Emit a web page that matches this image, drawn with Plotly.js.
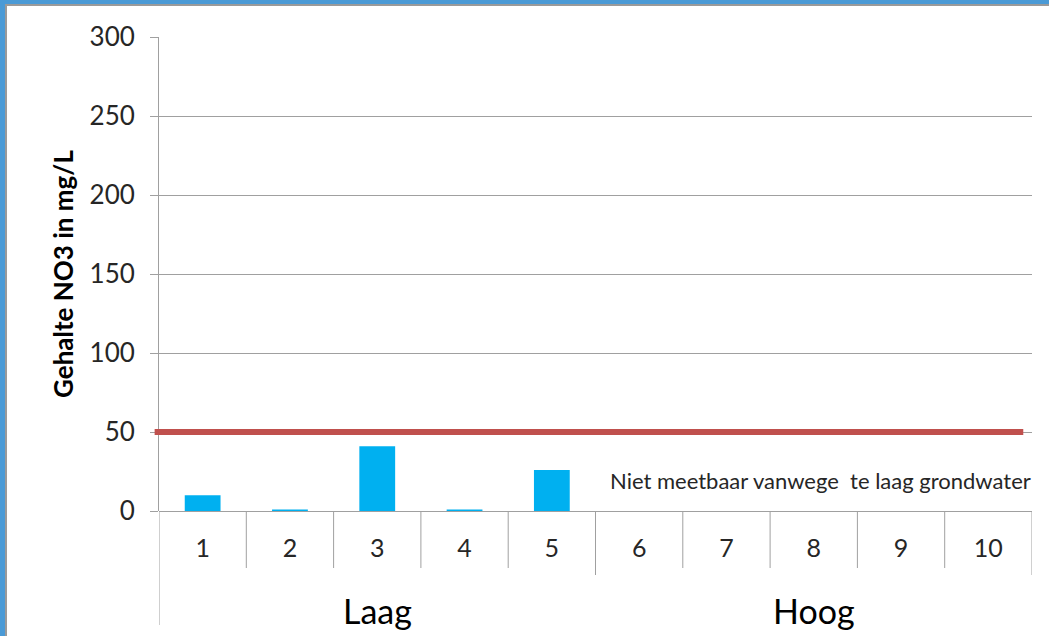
<!DOCTYPE html>
<html>
<head>
<meta charset="utf-8">
<script src="https://cdn.plot.ly/plotly-3.0.1.min.js"></script>
<style>
  html, body { margin: 0; padding: 0; background: #fff; }
  #frame { position: absolute; left: 0; top: 0; width: 1049px; height: 636px; box-sizing: border-box;
           border-top: 4px solid #4a9ad6; border-left: 5px solid #4a9ad6; }
  #frame:after { content: ""; position: absolute; left: 0; top: 0; right: 0; bottom: 0;
           border-top: 2px solid #9a9a9a; border-left: 2px solid #9a9a9a; }
  #chart { position: absolute; left: 0; top: 0; width: 1049px; height: 636px; }
</style>
</head>
<body>
<div id="chart"></div>
<div id="frame" style="pointer-events:none"></div>
<script>
const groups = ['Laag','Laag','Laag','Laag','Laag','Hoog','Hoog','Hoog','Hoog','Hoog'];
const categories = ['1','2','3','4','5','6','7','8','9','10'];
const values = [10, 1, 41, 1, 26, null, null, null, null, null];
const norm = 50;
const yTicks = [0, 50, 100, 150, 200, 250, 300];
const yTitle = 'Gehalte NO3 in mg/L';
const note = 'Niet meetbaar vanwege  te laag grondwater';

const font = 'Lato, "Open Sans", sans-serif';
const grey = '#a0a0a0';
const txt = '#262626';

// axis geometry (pixels of plot height, for paper-relative decorations)
const plotH = 474;
const innerTick = -57 / plotH;
const groupTick = -64 / plotH;
const outerTick = -114 / plotH;
const groupLabelY = -99 / plotH;

const data = [{
  type: 'bar',
  x: categories,
  y: values,
  width: 0.41,
  marker: { color: '#00b0f0', line: { width: 0 } },
  hoverinfo: 'skip'
}];

// boundary lines under the category axis
const shapes = [];
for (let i = 0; i <= categories.length; i++) {
  const b = i - 0.5;
  let y1 = innerTick;
  if (i === 0) y1 = outerTick;
  else if (i === categories.length || groups[i] !== groups[i - 1]) y1 = groupTick;
  shapes.push({ type: 'line', xref: 'x', yref: 'paper', x0: b, x1: b, y0: 0, y1: y1,
                line: { color: grey, width: 1 } });
}
shapes.push({
  type: 'line', xref: 'paper', yref: 'y', x0: -0.005, x1: 0.99, y0: norm, y1: norm,
  line: { color: '#c0504d', width: 6 }
});

// group labels centred on their categories
const annotations = [];
const uniq = [...new Set(groups)];
uniq.forEach(g => {
  const idx = groups.map((v, i) => v === g ? i : -1).filter(i => i >= 0);
  const c = (idx[0] + idx[idx.length - 1]) / 2;
  annotations.push({ xref: 'x', yref: 'paper', x: c, y: groupLabelY, text: g, showarrow: false,
                     font: { size: 34, family: font, color: '#000' }, xanchor: 'center', yanchor: 'middle' });
});
annotations.push({
  xref: 'paper', yref: 'y', x: 0.758, y: 19, text: note, showarrow: false,
  font: { size: 22, family: font, color: txt }, xanchor: 'center', yanchor: 'middle'
});

const layout = {
  width: 1049, height: 636,
  margin: { l: 159, r: 17, t: 37, b: 125 },
  paper_bgcolor: 'rgba(0,0,0,0)',
  plot_bgcolor: '#fff',
  showlegend: false,
  font: { family: font, color: txt },
  xaxis: {
    type: 'category',
    range: [-0.5, categories.length - 0.5],
    showline: false, ticks: '',
    ticklabelstandoff: 20,
    tickfont: { size: 25, family: font, color: txt },
    showgrid: false, zeroline: false
  },
  yaxis: {
    range: [0, 300], tickvals: yTicks, ticktext: yTicks.map(String),
    showgrid: true, gridcolor: grey, gridwidth: 1,
    zeroline: true, zerolinecolor: grey, zerolinewidth: 1,
    showline: true, linecolor: grey, linewidth: 1,
    ticks: 'outside', ticklen: 8, tickcolor: grey,
    ticklabelstandoff: 10,
    tickfont: { size: 26, family: font, color: txt },
    title: { text: yTitle, font: { size: 26, family: font, color: '#000', weight: 'bold' }, standoff: 8 },
    automargin: false
  },
  shapes: shapes,
  annotations: annotations
};

Plotly.newPlot('chart', data, layout, { displayModeBar: false, staticPlot: true });
</script>
</body>
</html>
